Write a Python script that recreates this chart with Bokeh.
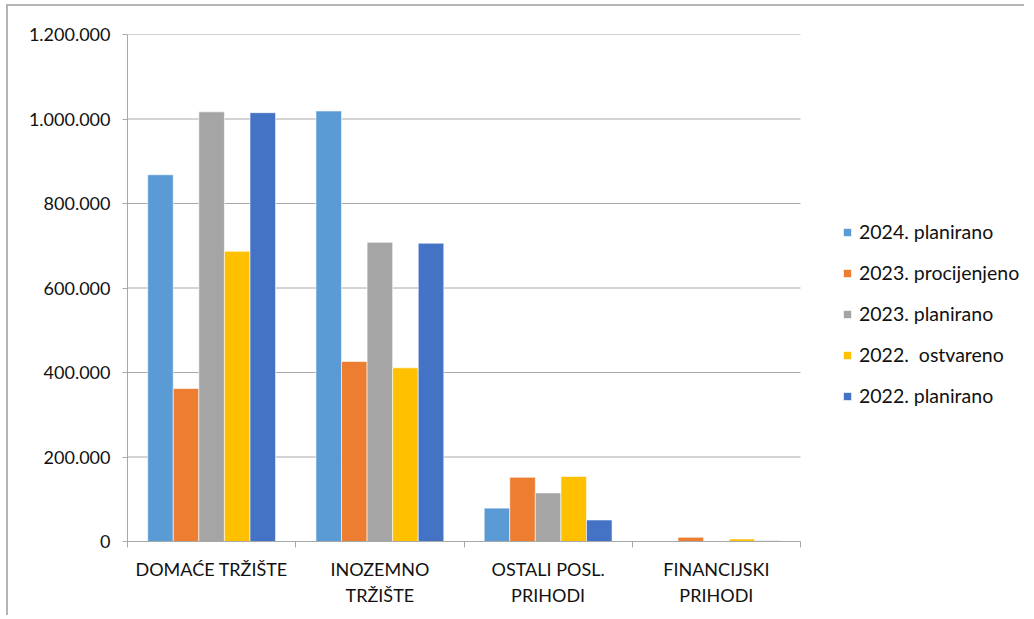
from bokeh.plotting import figure
from bokeh.models import Range1d, FixedTicker, Legend, LegendItem
from bokeh.embed import file_html
from bokeh.resources import INLINE

categories = ["DOMAĆE TRŽIŠTE", "INOZEMNO\nTRŽIŠTE", "OSTALI POSL.\nPRIHODI", "FINANCIJSKI\nPRIHODI"]
series_names = ["2024. planirano", "2023. procijenjeno", "2023. planirano", "2022.  ostvareno", "2022. planirano"]
plan_2024 = [868000, 1019000, 79000, 0]
proc_2023 = [362000, 426000, 152000, 10000]
plan_2023 = [1017000, 708000, 115000, 0]
ostv_2022 = [687000, 411000, 154000, 6000]
plan_2022 = [1015000, 706000, 51000, 2000]
series_values = [plan_2024, proc_2023, plan_2023, ostv_2022, plan_2022]
colors = ["#5B9BD5", "#ED7D31", "#A5A5A5", "#FFC000", "#4472C4"]
y_ticks = [0, 200000, 400000, 600000, 800000, 1000000, 1200000]
y_tick_labels = ["0", "200.000", "400.000", "600.000", "800.000", "1.000.000", "1.200.000"]

FONT = "Lato"
TXT = "#111111"
GRID = "#a8a8a8"
FS = "18px"

W, H = 1018, 611
ML, MT, MB = 119, 28, 76
FRAME_W = W - ML
CAT_W = 673  # pixel width of the category area
n = len(categories)

p = figure(width=W, height=H, output_backend="svg", toolbar_location=None,
           x_range=Range1d(0, n * FRAME_W / CAT_W), y_range=Range1d(0, 1200000),
           min_border_left=ML, min_border_top=MT, min_border_right=0, min_border_bottom=MB)
p.margin = (6, 0, 0, 8)
p.outline_line_color = None
p.background_fill_color = "white"
p.border_fill_color = "white"
p.styles = {"box-shadow": "-2px -2px 0 0 #b4b4b4"}

# horizontal gridlines limited to the category area
p.segment(x0=0, x1=n, y0=y_ticks[1:], y1=y_ticks[1:], line_color=GRID, line_width=1)

centers = [i + 0.5 for i in range(n)]
bw = 0.152
offsets = [(k - 2) * bw for k in range(len(series_names))]

items = []
for name, vals, col, off in zip(series_names, series_values, colors, offsets):
    r = p.vbar(x=[c + off for c in centers], top=vals, bottom=0, width=bw,
               fill_color=col, line_color="white", line_width=0.6)
    items.append(LegendItem(label=name, renderers=[r]))

# x axis
xa = p.xaxis[0]
xa.bounds = (0, n)
xa.ticker = FixedTicker(ticks=centers, minor_ticks=list(range(n + 1)))
xa.major_label_overrides = {c: lbl for c, lbl in zip(centers, categories)}
xa.major_tick_out = 0
xa.major_tick_in = 0
xa.minor_tick_out = 6
xa.minor_tick_in = 0
xa.minor_tick_line_color = GRID
xa.axis_line_color = GRID
xa.major_label_standoff = 10
xa.major_label_text_font = FONT
xa.major_label_text_font_size = FS
xa.major_label_text_color = TXT
xa.major_label_text_line_height = 1.22

# y axis
ya = p.yaxis[0]
ya.ticker = FixedTicker(ticks=y_ticks, minor_ticks=[])
ya.major_label_overrides = {v: lbl for v, lbl in zip(y_ticks, y_tick_labels)}
ya.major_tick_out = 5
ya.major_tick_in = 0
ya.major_tick_line_color = GRID
ya.axis_line_color = GRID
ya.major_label_standoff = 12
ya.major_label_text_font = FONT
ya.major_label_text_font_size = FS
ya.major_label_text_color = TXT

p.xgrid.visible = False
p.ygrid.visible = False

legend = Legend(items=items, location=(715, 134), orientation="vertical",
                glyph_width=10, glyph_height=10, label_standoff=7, spacing=18,
                padding=0, margin=0, border_line_color=None, background_fill_alpha=0,
                label_text_font=FONT, label_text_font_size="19.5px", label_text_color=TXT,
                label_height=22)
p.add_layout(legend, "center")

open("out.html", "w").write(file_html(p, INLINE))
